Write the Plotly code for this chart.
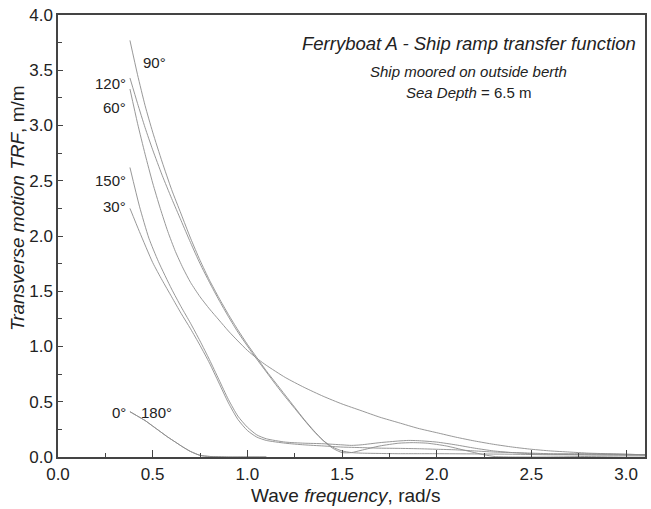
import plotly.graph_objects as go

# ---- data ----
x_90 = [0.38, 0.42, 0.46, 0.50, 0.55, 0.60, 0.65, 0.70, 0.75, 0.80, 0.85, 0.90, 0.95, 1.00, 1.05,
        1.10, 1.15, 1.20, 1.25, 1.30, 1.35, 1.40, 1.45, 1.50, 1.55, 1.60, 1.70, 1.80, 1.87, 1.95,
        2.05, 2.15, 2.25, 2.31, 2.40, 2.60, 2.80, 3.00, 3.10]
y_90 = [3.77, 3.46, 3.18, 2.94, 2.67, 2.42, 2.20, 1.98, 1.78, 1.60, 1.44, 1.29, 1.15, 1.02, 0.90,
        0.78, 0.67, 0.56, 0.45, 0.34, 0.24, 0.15, 0.08, 0.04, 0.04, 0.06, 0.10, 0.125, 0.13, 0.125,
        0.10, 0.06, 0.02, 0.004, 0.0, 0.0, 0.005, 0.01, 0.01]

x_120 = [0.38, 0.42, 0.46, 0.50, 0.55, 0.60, 0.65, 0.70, 0.75, 0.80, 0.85, 0.90, 0.95, 1.00, 1.05,
         1.10, 1.15, 1.20, 1.25, 1.30, 1.35, 1.40, 1.45, 1.50, 1.55, 1.60, 1.70, 1.80, 1.90, 2.00,
         2.20, 2.40, 2.60, 2.80, 3.00, 3.10]
y_120 = [3.43, 3.20, 2.98, 2.78, 2.55, 2.34, 2.14, 1.94, 1.75, 1.58, 1.42, 1.27, 1.13, 1.005, 0.885,
         0.77, 0.655, 0.545, 0.44, 0.335, 0.235, 0.15, 0.09, 0.055, 0.04, 0.035, 0.032, 0.03, 0.03, 0.03,
         0.028, 0.025, 0.02, 0.02, 0.02, 0.02]

x_60 = [0.38, 0.42, 0.46, 0.50, 0.54, 0.58, 0.62, 0.66, 0.70, 0.75, 0.80, 0.85, 0.90, 0.95, 1.00,
        1.06, 1.10, 1.20, 1.30, 1.40, 1.50, 1.60, 1.70, 1.80, 1.90, 2.00, 2.10, 2.20, 2.30, 2.40,
        2.50, 2.60, 2.70, 2.80, 2.90, 3.00, 3.10]
y_60 = [3.33, 3.02, 2.74, 2.48, 2.25, 2.04, 1.86, 1.71, 1.58, 1.45, 1.34, 1.24, 1.14, 1.05, 0.965,
        0.88, 0.83, 0.72, 0.63, 0.55, 0.48, 0.42, 0.36, 0.31, 0.26, 0.22, 0.18, 0.145, 0.115, 0.09,
        0.07, 0.055, 0.045, 0.035, 0.03, 0.025, 0.02]

x_150 = [0.38, 0.43, 0.48, 0.53, 0.60, 0.65, 0.70, 0.75, 0.80, 0.85, 0.90, 0.95, 1.00, 1.05, 1.10,
         1.20, 1.30, 1.40, 1.50, 1.55, 1.60, 1.70, 1.80, 1.85, 1.90, 2.00, 2.10, 2.20, 2.30, 2.40,
         2.50, 2.60, 2.80, 3.00, 3.10]
y_150 = [2.62, 2.27, 1.98, 1.77, 1.52, 1.36, 1.21, 1.05, 0.88, 0.70, 0.52, 0.37, 0.27, 0.20, 0.165,
         0.135, 0.125, 0.12, 0.11, 0.105, 0.11, 0.13, 0.145, 0.15, 0.148, 0.135, 0.11, 0.08, 0.055, 0.04,
         0.03, 0.025, 0.02, 0.02, 0.02]

x_30 = [0.38, 0.43, 0.50, 0.55, 0.60, 0.65, 0.70, 0.75, 0.80, 0.85, 0.90, 0.95, 1.00, 1.05, 1.10,
        1.20, 1.30, 1.40, 1.50, 1.60, 1.70, 1.80, 1.90, 2.00, 2.10, 2.20, 2.30, 2.40, 2.50, 2.60,
        2.80, 3.00, 3.10]
y_30 = [2.25, 2.04, 1.76, 1.60, 1.45, 1.30, 1.16, 1.01, 0.85, 0.67, 0.49, 0.34, 0.24, 0.18, 0.15,
        0.125, 0.11, 0.10, 0.09, 0.085, 0.08, 0.078, 0.075, 0.07, 0.065, 0.055, 0.045, 0.04, 0.035, 0.03,
        0.03, 0.025, 0.02]

x_0 = [0.38, 0.42, 0.46, 0.50, 0.54, 0.58, 0.62, 0.66, 0.70, 0.75, 0.80, 0.90, 1.00, 1.10]
y_0 = [0.41, 0.37, 0.33, 0.28, 0.23, 0.18, 0.135, 0.09, 0.05, 0.015, 0.005, 0.0, 0.0, 0.0]

x_180 = x_0
y_180 = y_0

series = [("90°", x_90, y_90), ("120°", x_120, y_120), ("60°", x_60, y_60),
          ("150°", x_150, y_150), ("30°", x_30, y_30), ("0°", x_0, y_0), ("180°", x_180, y_180)]

# label positions (data units) and alignment
labels = [("90°", 0.44, 3.57, "left"), ("120°", 0.37, 3.38, "right"), ("60°", 0.37, 3.16, "right"),
          ("150°", 0.37, 2.50, "right"), ("30°", 0.37, 2.27, "right"), ("0°", 0.37, 0.40, "right"),
          ("180°", 0.43, 0.40, "left")]

FONT = "Liberation Sans, Arial, sans-serif"
LINE = "#8c8c8c"
TXT = "#222222"

fig = go.Figure()
for name, xs, ys in series:
    fig.add_trace(go.Scatter(x=xs, y=ys, mode="lines", name=name,
                             line=dict(color=LINE, width=0.9, shape="spline", smoothing=0.6),
                             showlegend=False, hoverinfo="skip"))

for t, lx, ly, al in labels:
    fig.add_annotation(x=lx, y=ly, text=t, showarrow=False, xanchor=al, yanchor="middle",
                       font=dict(family=FONT, size=15, color=TXT))

fig.add_annotation(xref="paper", yref="paper", x=0.70, y=0.935,
                   text="<i>Ferryboat A - Ship ramp transfer function</i>", showarrow=False,
                   xanchor="center", yanchor="middle", font=dict(family=FONT, size=18.5, color=TXT))
fig.add_annotation(xref="paper", yref="paper", x=0.70, y=0.873,
                   text="<i>Ship moored on outside berth</i>", showarrow=False,
                   xanchor="center", yanchor="middle", font=dict(family=FONT, size=15, color=TXT))
fig.add_annotation(xref="paper", yref="paper", x=0.70, y=0.825,
                   text="<i>Sea Depth</i> = 6.5 m", showarrow=False,
                   xanchor="center", yanchor="middle", font=dict(family=FONT, size=15, color=TXT))

# axis titles as annotations (positioned like the reference)
fig.add_annotation(xref="paper", yref="paper", x=0.489, y=-0.088,
                   text="Wave <i>frequency</i>, rad/s", showarrow=False,
                   xanchor="center", yanchor="middle", font=dict(family=FONT, size=19, color=TXT))
fig.add_annotation(xref="paper", yref="paper", x=-0.07, y=0.563, textangle=-90,
                   text="<i>Transverse motion TRF</i>, m/m", showarrow=False,
                   xanchor="center", yanchor="middle", font=dict(family=FONT, size=19, color=TXT))

axis_common = dict(showline=True, linecolor="#444444", linewidth=1.5, mirror=True,
                   showgrid=False, zeroline=False, ticks="inside", tickcolor="#444444",
                   tickfont=dict(family=FONT, size=17, color=TXT))

fig.update_xaxes(range=[0, 3.1], tickmode="linear", tick0=0, dtick=0.5, tickformat=".1f",
                 ticklen=7, tickwidth=1, ticklabelstandoff=1,
                 minor=dict(dtick=0.25, ticks="inside", ticklen=4, tickcolor="#444444"),
                 **axis_common)
fig.update_yaxes(range=[0, 4.0], tickmode="linear", tick0=0, dtick=0.5, tickformat=".1f",
                 ticklen=5, tickwidth=1,
                 minor=dict(dtick=0.25, ticks="inside", ticklen=4, tickcolor="#444444"),
                 **axis_common)

fig.update_layout(width=651, height=509, margin=dict(l=58, r=4, t=15, b=52),
                  plot_bgcolor="white", paper_bgcolor="white")

fig.write_html("out.html")
